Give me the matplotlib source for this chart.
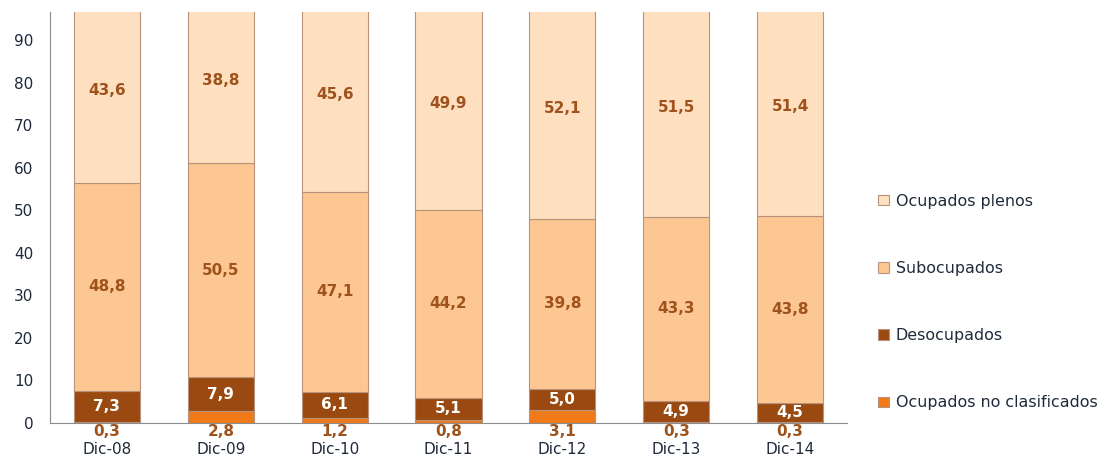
import matplotlib
matplotlib.use("Agg")
import matplotlib.pyplot as plt
import numpy as np

categories = ["Dic-08", "Dic-09", "Dic-10", "Dic-11", "Dic-12", "Dic-13", "Dic-14"]
no_clasificados = [0.3, 2.8, 1.2, 0.8, 3.1, 0.3, 0.3]
desocupados = [7.3, 7.9, 6.1, 5.1, 5.0, 4.9, 4.5]
subocupados = [48.8, 50.5, 47.1, 44.2, 39.8, 43.3, 43.8]
plenos = [43.6, 38.8, 45.6, 49.9, 52.1, 51.5, 51.4]
series_names = ["Ocupados no clasificados", "Desocupados", "Subocupados", "Ocupados plenos"]
yticks = [0, 10, 20, 30, 40, 50, 60, 70, 80, 90]

colors = ["#F07A1A", "#9A4A10", "#FDC793", "#FEDFC0"]
label_color = "#A0521C"

fig = plt.figure(figsize=(11.07, 4.61), dpi=100)
ax = fig.add_axes([50 / 1107, 1 - 423 / 461, 797 / 1107, (423 - 12) / 461])

x = np.arange(len(categories))
width = 0.58
data = [no_clasificados, desocupados, subocupados, plenos]
bottom = np.zeros(len(categories))
bars = []
for vals, c, name in zip(data, colors, series_names):
    b = ax.bar(x, vals, width, bottom=bottom, color=c, edgecolor="#B8927A",
               linewidth=0.8, label=name, clip_on=True)
    bars.append(b)
    bottom = bottom + np.array(vals)

# labels
bottom = np.zeros(len(categories))
for i, (vals, name) in enumerate(zip(data, series_names)):
    for j, v in enumerate(vals):
        txt = f"{v:.1f}".replace(".", ",")
        if i == 0:
            ax.annotate(txt, xy=(x[j], 0), xytext=(0, -6), textcoords="offset points",
                        ha="center", va="center", color=label_color, fontsize=11,
                        fontweight="bold", annotation_clip=False)
        else:
            col = "white" if i == 1 else label_color
            ax.text(x[j], bottom[j] + v / 2, txt, ha="center", va="center",
                    color=col, fontsize=11, fontweight="bold")
    bottom = bottom + np.array(vals)

ax.set_xlim(-0.5, len(categories) - 0.5)
ax.set_ylim(0, 96.6)
ax.set_yticks(yticks)
ax.set_yticklabels([str(t) for t in yticks], fontsize=11, color="#1E2A3A")
ax.set_xticks(x)
ax.set_xticklabels(categories, fontsize=11, color="#1E2A3A")
ax.tick_params(axis="both", length=0)
ax.tick_params(axis="x", pad=14)
ax.tick_params(axis="y", pad=12)
for s in ["top", "right"]:
    ax.spines[s].set_visible(False)
ax.spines["left"].set_color("#8C8C8C")
ax.spines["bottom"].set_color("#8C8C8C")

handles = [bars[3], bars[2], bars[1], bars[0]]
labels = [series_names[3], series_names[2], series_names[1], series_names[0]]
leg = fig.legend(handles, labels, loc="center left", bbox_to_anchor=(864 / 1107, 1 - 302 / 461),
                 frameon=False, fontsize=11.4, labelspacing=3.3, handlelength=0.65,
                 handleheight=0.65, handletextpad=0.45, labelcolor="#1E2A3A")

fig.savefig("out.png", dpi=100)
